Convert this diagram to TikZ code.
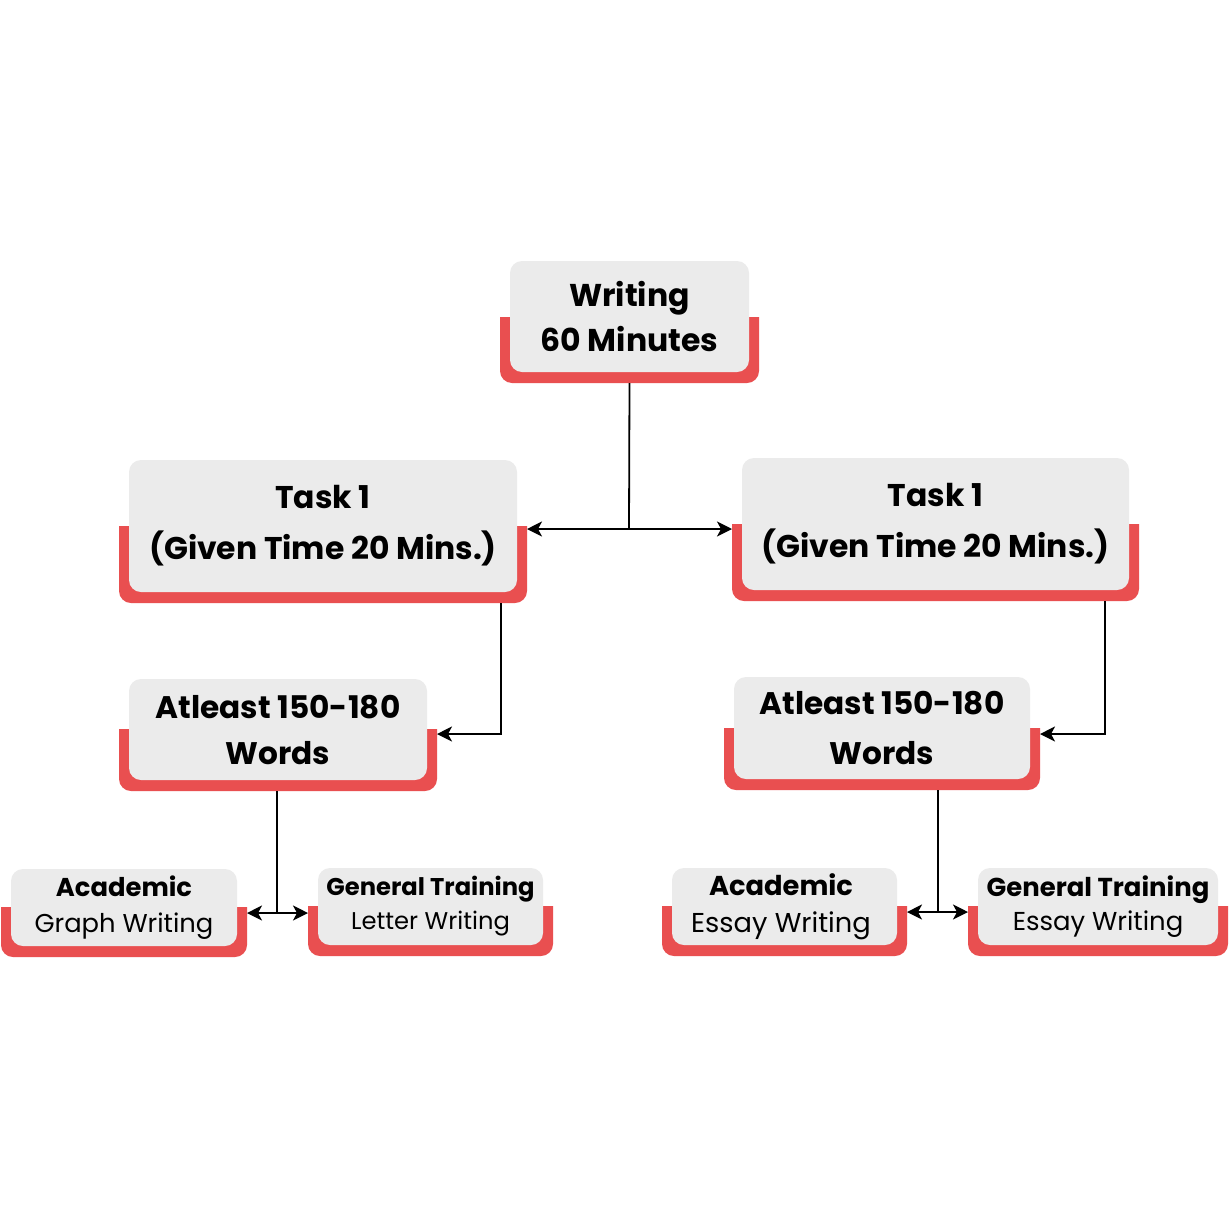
\documentclass[tikz,border=0pt]{standalone}
\usepackage{fontspec}
\setmainfont{Poppins}
\usetikzlibrary{arrows.meta,calc}
\definecolor{boxgrey}{HTML}{EBEBEB}
\definecolor{boxred}{HTML}{E94F50}
\tikzset{
  gbox/.style={fill=boxgrey, rounded corners=12pt, inner sep=0pt, outer sep=0pt, align=center, text=black},
  rbox/.style={inner sep=0pt, outer sep=0pt},
  conn/.style={draw=black, line width=1.8pt},
}
% #1 name, #2 l, #3 t, #4 r, #5 b (grey), #6 red top, #7 font, #8 text, #9 horizontal text offset
\newcommand\tcard[9]{%
  \fill[boxred] (#2-10,#6) -- (#2-10,#5-1) arc[start angle=180,end angle=90,radius=12] -- (#4-2,#5+11) arc[start angle=90,end angle=0,radius=12] -- (#4+10,#6) -- cycle;
  \node[rbox, minimum width={#4-#2+20}, minimum height={#5+11-#6}] (#1r) at ({(#2+#4)/2},{(#6+#5+11)/2}) {};
  \node[gbox, minimum width={#4-#2}, minimum height={#5-#3}, font=#7] (#1) at ({(#2+#4)/2},{(#3+#5)/2}) {\hspace*{#9pt}#8\hspace*{-#9pt}};
}
\begin{document}
\begin{tikzpicture}[x=1pt,y=-1pt,>={Stealth[length=15pt,width=15pt,inset=4pt]}]
\useasboundingbox[fill=white] (0,0) rectangle (1230,1218);
\tcard{w}{510}{261}{749}{372}{317}{\fontsize{31.5}{45}\selectfont\bfseries}{Writing\\60 Minutes}{0}
\tcard{tl}{129}{460}{517}{592}{526}{\fontsize{31.4}{51}\selectfont\bfseries}{Task 1\\(Given Time 20 Mins.)}{0}
\tcard{tr}{742}{458}{1129}{590}{524}{\fontsize{31.4}{51}\selectfont\bfseries}{Task 1\\(Given Time 20 Mins.)}{0}
\tcard{al}{129}{679}{427}{780}{729}{\fontsize{31.2}{46}\selectfont\bfseries}{Atleast 150-180\\Words}{0}
\tcard{ar}{734}{677}{1030}{779}{728}{\fontsize{31.2}{50}\selectfont\bfseries}{Atleast 150-180\\Words}{0}
\tcard{ga}{11}{869}{237}{946}{907}{\fontsize{25.8}{36}\selectfont}{\textbf{Academic}\\Graph Writing}{0}
\tcard{gg}{318}{868}{543}{945}{906}{\fontsize{24.2}{34}\selectfont}{\textbf{General Training}\\Letter Writing}{0}
\tcard{ea}{672}{868}{897}{945}{906}{\fontsize{27.3}{37}\selectfont}{\textbf{Academic}\\Essay Writing}{-7}
\tcard{eg}{978}{868}{1218}{945}{906}{\fontsize{25.9}{34}\selectfont}{\textbf{General Training}\\Essay Writing}{0}
\coordinate (j1) at (629,529);
\coordinate (k1) at (501,734);
\coordinate (k2) at (1105,734);
\coordinate (m1) at (277,913);
\coordinate (m2) at (938,912);
\draw[conn] (wr.south) -- (j1);
\draw[conn,<->] (tlr.east |- j1) -- (trr.west |- j1);
\draw[conn,->] (tlr.south -| k1) |- (alr.east |- k1);
\draw[conn,->] (trr.south -| k2) |- (arr.east |- k2);
\draw[conn] (alr.south -| m1) -- (m1);
\draw[conn,<->] (gar.east |- m1) -- (ggr.west |- m1);
\draw[conn] (arr.south -| m2) -- (m2);
\draw[conn,<->] (ear.east |- m2) -- (egr.west |- m2);
\end{tikzpicture}
\end{document}
